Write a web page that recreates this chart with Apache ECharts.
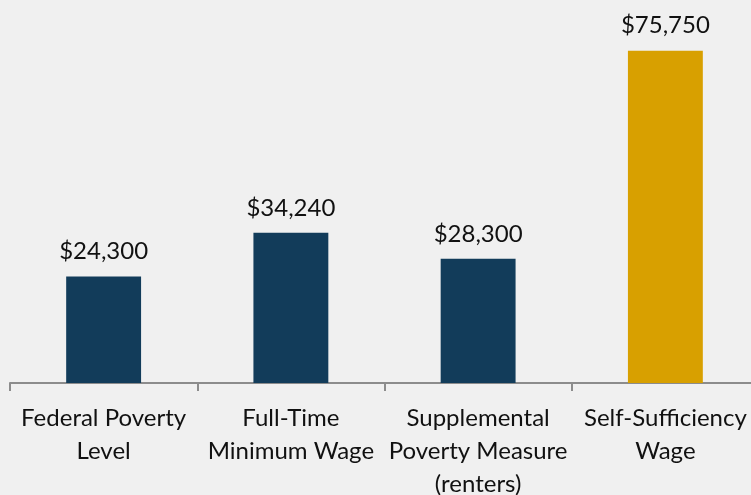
<!DOCTYPE html>
<html>
<head>
<meta charset="utf-8">
<script src="https://cdn.jsdelivr.net/npm/echarts@6/dist/echarts.min.js"></script>
<style>
  html, body { margin: 0; padding: 0; background: #f0f0f0; overflow: hidden; }
  #chart { width: 760px; height: 495px; }
</style>
</head>
<body>
<div id="chart"></div>
<script>
const categories = [
  'Federal Poverty\nLevel',
  'Full-Time\nMinimum Wage',
  'Supplemental\nPoverty Measure\n(renters)',
  'Self-Sufficiency\nWage'
]
const values = [24300, 34240, 28300, 75750]
const barColors = ['#123c5a', '#123c5a', '#123c5a', '#d8a000']

const chart = echarts.init(document.getElementById('chart'))
chart.setOption({
  backgroundColor: '#f0f0f0',
  textStyle: { fontFamily: 'Lato' },
  grid: { left: 10, right: 1, top: 32, bottom: 112, outerBoundsMode: 'none', containLabel: false },
  xAxis: {
    type: 'category',
    data: categories,
    axisLine: { lineStyle: { color: '#8c8c8c', width: 2 } },
    axisTick: { show: true, interval: 0, length: 8, lineStyle: { color: '#8c8c8c', width: 2 } },
    axisLabel: { interval: 0, color: '#111', fontSize: 24, lineHeight: 33, margin: 19, fontFamily: 'Lato' }
  },
  yAxis: { type: 'value', min: 0, max: 80000, show: false, splitLine: { show: false } },
  series: [{
    type: 'bar',
    barWidth: '40%',
    data: values.map((v, i) => ({ value: v, itemStyle: { color: barColors[i] } })),
    label: {
      show: true, position: 'top', distance: 13,
      color: '#111', fontSize: 24, fontFamily: 'Lato',
      formatter: p => '$' + p.value.toLocaleString('en-US')
    }
  }]
})
</script>
</body>
</html>
